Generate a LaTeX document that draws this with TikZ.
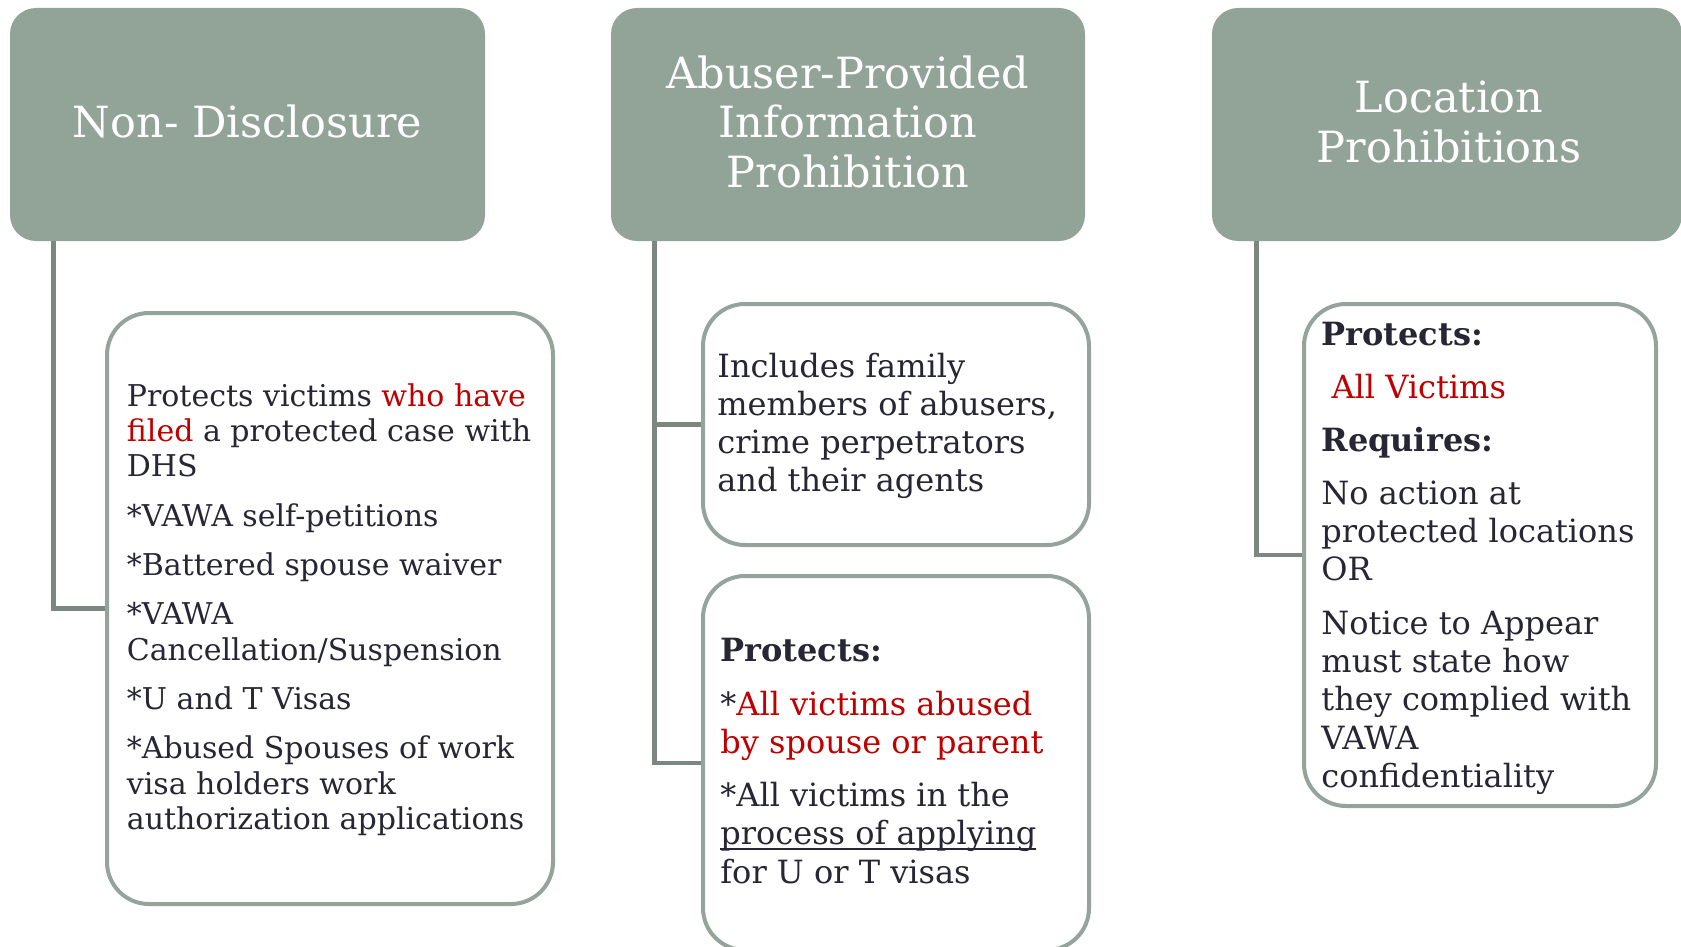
\documentclass[tikz,border=0pt]{standalone}
\usepackage{fontspec}
\setmainfont{DejaVu Serif}
\usetikzlibrary{calc}
\definecolor{headfill}{RGB}{146,163,152}
\definecolor{boxline}{RGB}{148,164,154}
\definecolor{connline}{RGB}{122,136,128}
\definecolor{ink}{RGB}{38,38,52}
\definecolor{accent}{RGB}{192,0,0}
% underline drawn through the descenders
\newsavebox\ulbox
\newcommand\undln[1]{\sbox\ulbox{#1}\rlap{\rule[-2.4pt]{\wd\ulbox}{0.8pt}}\usebox\ulbox}
\begin{document}
\begin{tikzpicture}[x=0.5pt,y=-0.5pt,
  header/.style={rectangle, rounded corners=13pt, fill=headfill,
    inner sep=0pt, minimum height=116.5pt},
  headtext/.style={text=white, align=center, inner sep=0pt,
    font=\fontsize{21.5}{24.7}\selectfont},
  infobox/.style={rectangle, rounded corners=21pt, draw=boxline,
    line width=2pt, fill=white, inner sep=0pt},
  conn/.style={draw=connline, line width=2.2pt},
  body/.style={anchor=base west, inner sep=0pt, text=ink, align=left},
  small/.style={font=\fontsize{15}{17.7}\selectfont},
  large/.style={font=\fontsize{16}{19.15}\selectfont}]
\useasboundingbox (0,0) rectangle (1681,947);

% column headers
\node[header, minimum width=237.5pt] (h1) at (247.5,124.5) {};
\node[header, minimum width=237pt] (h2) at (848,124.5) {};
\node[header, minimum width=235pt] (h3) at (1447,124.5) {};
\node[headtext] (h1t) at ($(h1.center)+(0,-2.7)$) {Non- Disclosure};
\node[headtext] (h2t) at ($(h2.center)+(0,-2.7)$) {Abuser-Provided\\Information\\Prohibition};
\node[headtext] (h3t) at ($(h3.center)+(2,-2.7)$) {Location\\Prohibitions};

% detail boxes
\node[infobox, minimum width=223pt, minimum height=295.5pt] (c1) at (330,608.5) {};
\node[infobox, minimum width=193pt, minimum height=120.5pt] (c2a) at (896,424.5) {};
\node[infobox, minimum width=193pt, minimum height=187pt] (c2b) at (896,763) {};
\node[infobox, minimum width=176pt, minimum height=251pt] (c3) at (1480,555) {};

% connectors
\draw[conn] ($(h1.south west)+(44,0)$) |- (c1.west);
\draw[conn] ($(h2.south west)+(44,0)$) |- (c2a.west);
\draw[conn] ($(h2.south west)+(44,0)$) |- (c2b.west);
\draw[conn] ($(h3.south west)+(45,0)$) |- (c3.west);

% box texts
\node[body, small] (t1) at (126.5,406) {\begin{tabular}[t]{@{}l@{}}
Protects victims \textcolor{accent}{who have}\\
\textcolor{accent}{filed} a protected case with\\
DHS\\[6.95pt]
*VAWA self-petitions\\[6.95pt]
*Battered spouse waiver\\[6.95pt]
*VAWA\\
Cancellation/Suspension\\[6.95pt]
*U and T Visas\\[6.95pt]
*Abused Spouses of work\\
visa holders work\\
authorization applications
\end{tabular}};

\node[body, large] (t2a) at (717,377) {\begin{tabular}[t]{@{}l@{}}
Includes family\\
members of abusers,\\
crime perpetrators\\
and their agents
\end{tabular}};

\node[body, large] (t2b) at (720,661.5) {\begin{tabular}[t]{@{}l@{}}
\textbf{Protects:}\\[7.65pt]
*\textcolor{accent}{All victims abused}\\
\textcolor{accent}{by spouse or parent}\\[7.4pt]
*All victims in the\\
\undln{process of applying}\\
for U or T visas
\end{tabular}};

\node[body, large] (t3) at (1321,345) {\begin{tabular}[t]{@{}l@{}}
\textbf{Protects:}\\[7.65pt]
\ \textcolor{accent}{All Victims}\\[7.2pt]
\textbf{Requires:}\\[7.2pt]
No action at\\
protected locations\\
OR\\[7.65pt]
Notice to Appear\\
must state how\\
they complied with\\
VAWA\\
confidentiality
\end{tabular}};
\end{tikzpicture}
\end{document}
